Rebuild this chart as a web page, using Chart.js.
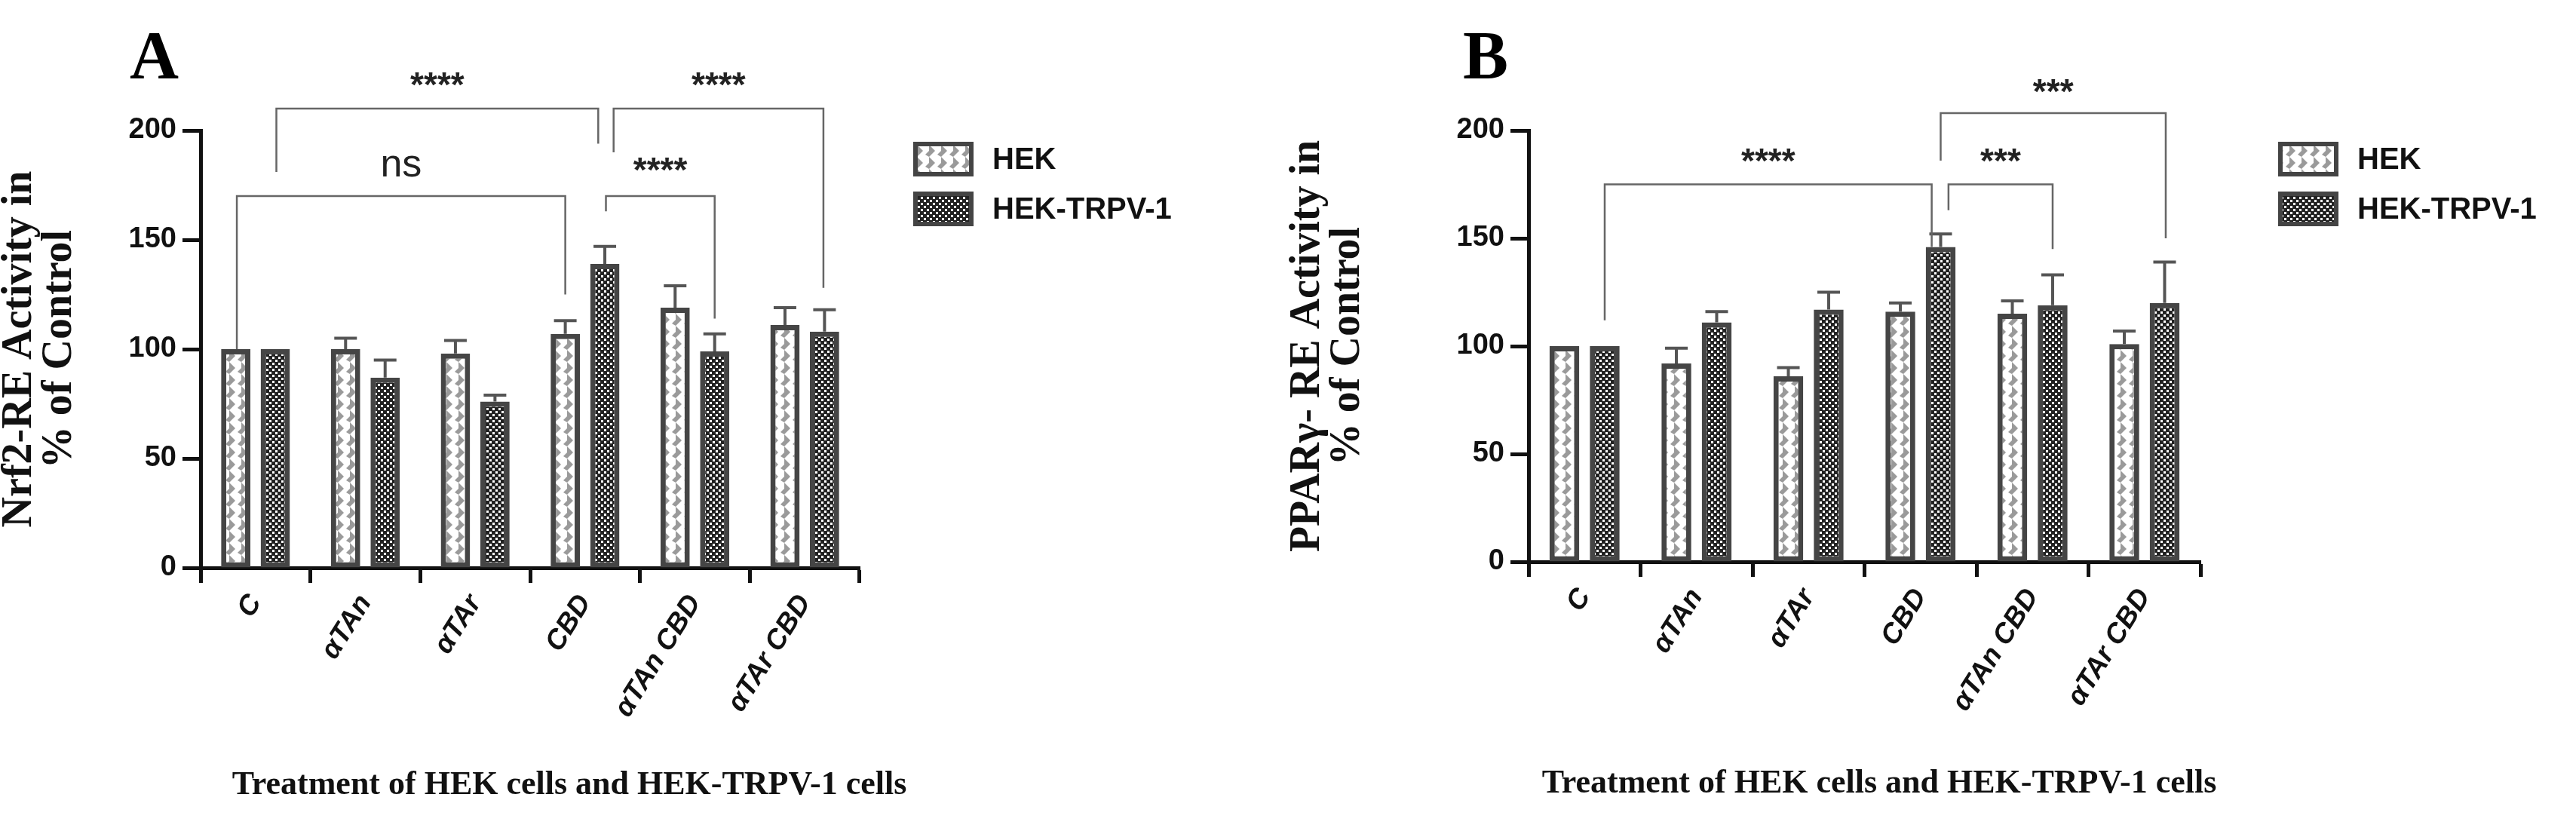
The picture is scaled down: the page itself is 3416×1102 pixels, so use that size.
<!DOCTYPE html>
<html>
<head>
<meta charset="utf-8">
<script src="https://cdn.jsdelivr.net/npm/chart.js@4/dist/chart.umd.min.js"></script>
<style>
  body { margin: 0; background: #fff; width: 3416px; height: 1102px; position: relative; overflow: hidden; }
  .panel { position: absolute; top: 0; width: 1708px; height: 1102px; }
  .letter { position: absolute; font: bold 90px "Liberation Serif", serif; color: #000; }
  .xtitle { position: absolute; font: bold 44px "Liberation Serif", serif; color: #111; white-space: nowrap; transform: translateX(-50%); }
</style>
</head>
<body>
<div class="panel" style="left:0"><canvas id="chartA" width="1708" height="1102"></canvas></div>
<div class="panel" style="left:1708px"><canvas id="chartB" width="1708" height="1102"></canvas></div>
<div class="letter" style="left:172px;top:22px">A</div>
<div class="letter" style="left:1940px;top:22px">B</div>
<div class="xtitle" style="left:755px;top:1013px">Treatment of HEK cells and HEK-TRPV-1 cells</div>
<div class="xtitle" style="left:2492px;top:1011px">Treatment of HEK cells and HEK-TRPV-1 cells</div>
<script>
// categories and series
const categories = ['C', 'αTAn', 'αTAr', 'CBD', 'αTAn CBD', 'αTAr CBD'];
const seriesNames = ['HEK', 'HEK-TRPV-1'];
const yTicks = [0, 50, 100, 150, 200];

// panel A : Nrf2-RE
const nrfHek = [100, 100, 98, 107, 119, 111];
const nrfHekErr = [0, 5, 6, 6, 10, 8];
const nrfTrpv = [100, 87, 76, 139, 99, 108];
const nrfTrpvErr = [0, 8, 3, 8, 8, 10];
// brackets: [x1 (category units), x2, y, left leg end, right leg end, label, label y]
const nrfBrackets = [
  [0.19, 3.12, 210, 181, 194, '****', 220],
  [3.26, 5.17, 210, 190, 128, '****', 220],
  [-0.17, 2.82, 170, 100, 125, 'ns', 184],
  [3.19, 4.18, 170, 163, 114, '****', 181]
];

// panel B : PPARγ-RE
const pparHek = [100, 92, 86, 116, 115, 101];
const pparHekErr = [0, 7, 4, 4, 6, 6];
const pparTrpv = [100, 111, 117, 146, 119, 120];
const pparTrpvErr = [0, 5, 8, 6, 14, 19];
const pparBrackets = [
  [0.18, 3.10, 175, 112, 146, '****', 185],
  [3.25, 4.18, 175, 163, 145, '***', 185],
  [3.18, 5.19, 208, 186, 150, '***', 217]
];

function makePattern(kind) {
  const c = document.createElement('canvas');
  const g = c.getContext('2d');
  if (kind === 'zig') {
    c.width = 16; c.height = 16;
    g.fillStyle = '#fff'; g.fillRect(0, 0, 16, 16);
    g.fillStyle = '#9a9a9a';
    g.beginPath(); g.moveTo(0, 0); g.lineTo(8, 8); g.lineTo(0, 16); g.closePath(); g.fill();
    g.beginPath(); g.moveTo(16, 8); g.lineTo(11, 13); g.lineTo(16, 16); g.closePath(); g.fill();
  } else {
    c.width = 8; c.height = 8;
    g.fillStyle = '#222'; g.fillRect(0, 0, 8, 8);
    g.fillStyle = '#fff';
    g.fillRect(1, 1, 3, 3); g.fillRect(5, 5, 3, 3);
  }
  return g.createPattern(c, 'repeat');
}

function buildChart(id, hek, hekErr, trpv, trpvErr, brackets, titleLines, area) {
  const ctx = document.getElementById(id).getContext('2d');
  const fills = [makePattern('zig'), makePattern('check')];
  const errs = [hekErr, trpvErr];

  const extras = {
    id: 'extras',
    afterDatasetsDraw(chart) {
      const g = chart.ctx, y = chart.scales.y, x = chart.scales.x;
      g.save();
      // error bars
      g.strokeStyle = '#555'; g.lineWidth = 4;
      chart.data.datasets.forEach((ds, d) => {
        chart.getDatasetMeta(d).data.forEach((bar, i) => {
          if (!errs[d][i]) return;
          const top = y.getPixelForValue(ds.data[i] + errs[d][i]);
          g.beginPath();
          g.moveTo(bar.x, bar.y); g.lineTo(bar.x, top);
          g.moveTo(bar.x - 15, top); g.lineTo(bar.x + 15, top);
          g.stroke();
        });
      });
      // significance brackets
      const step = x.getPixelForValue(1) - x.getPixelForValue(0);
      g.strokeStyle = '#666'; g.lineWidth = 2.5;
      g.fillStyle = '#222'; g.textAlign = 'center'; g.textBaseline = 'middle';
      brackets.forEach(b => {
        const x1 = x.getPixelForValue(0) + b[0] * step;
        const x2 = x.getPixelForValue(0) + b[1] * step;
        const yy = y.getPixelForValue(b[2]);
        g.beginPath();
        g.moveTo(x1, y.getPixelForValue(b[3])); g.lineTo(x1, yy);
        g.lineTo(x2, yy); g.lineTo(x2, y.getPixelForValue(b[4]));
        g.stroke();
        g.font = (b[5] === 'ns' ? '52px' : 'bold 46px') + ' Arial, "Liberation Sans", sans-serif';
        g.fillText(b[5], (x1 + x2) / 2, y.getPixelForValue(b[6]));
      });
      // legend
      g.textAlign = 'left';
      g.font = 'bold 40px Arial, "Liberation Sans", sans-serif';
      seriesNames.forEach((name, d) => {
        const ly = area.legendY[d];
        g.fillStyle = fills[d];
        g.fillRect(area.legendX, ly - 20, 74, 40);
        g.strokeStyle = '#444'; g.lineWidth = 6;
        g.strokeRect(area.legendX, ly - 20, 74, 40);
        g.fillStyle = '#111';
        g.fillText(name, area.legendX + 102, ly + 2);
      });
      g.restore();
    }
  };

  const mkSet = (label, data, d) => ({
    label, data,
    backgroundColor: fills[d],
    borderColor: '#454545',
    borderWidth: 7,
    borderSkipped: false,
    barPercentage: 0.74,
    categoryPercentage: 0.72
  });

  return new Chart(ctx, {
    type: 'bar',
    data: {
      labels: categories,
      datasets: [mkSet(seriesNames[0], hek, 0), mkSet(seriesNames[1], trpv, 1)]
    },
    options: {
      responsive: false,
      animation: false,
      layout: { padding: { top: area.top, right: area.right, left: 0, bottom: 0 } },
      plugins: { legend: { display: false }, tooltip: { enabled: false } },
      scales: {
        x: {
          afterFit(s) { s.height = 1102 - area.bottom; },
          grid: { display: true, drawOnChartArea: false, tickLength: 20, tickWidth: 5, tickColor: '#111' },
          border: { color: '#111', width: 5 },
          ticks: {
            color: '#111', minRotation: 58, maxRotation: 58, padding: 8,
            font: { family: 'Arial, "Liberation Sans", sans-serif', size: 37, weight: 'bold', style: 'italic' }
          }
        },
        y: {
          min: 0, max: 200,
          afterFit(s) { s.width = area.left; },
          afterBuildTicks(s) { s.ticks = yTicks.map(v => ({ value: v })); },
          grid: { display: true, drawOnChartArea: false, tickLength: 24, tickWidth: 5, tickColor: '#111' },
          border: { color: '#111', width: 5 },
          ticks: {
            color: '#111', padding: 8,
            font: { family: 'Arial, "Liberation Sans", sans-serif', size: 38, weight: 'bold' }
          },
          title: {
            display: true, text: titleLines, color: '#111', padding: 0,
            font: { family: '"Liberation Serif", serif', size: 56, weight: 'bold', lineHeight: 0.95 }
          }
        }
      }
    },
    plugins: [extras]
  });
}

buildChart('chartA', nrfHek, nrfHekErr, nrfTrpv, nrfTrpvErr, nrfBrackets,
  ['Nrf2-RE Activity in', '% of Control'],
  { left: 266, right: 1708 - 1140, top: 173, bottom: 753, legendX: 1214, legendY: [211, 277] });
buildChart('chartB', pparHek, pparHekErr, pparTrpv, pparTrpvErr, pparBrackets,
  ['PPARγ- RE Activity in', '% of Control'],
  { left: 319, right: 1708 - 1210, top: 173, bottom: 745, legendX: 1316, legendY: [211, 277] });
</script>
</body>
</html>
